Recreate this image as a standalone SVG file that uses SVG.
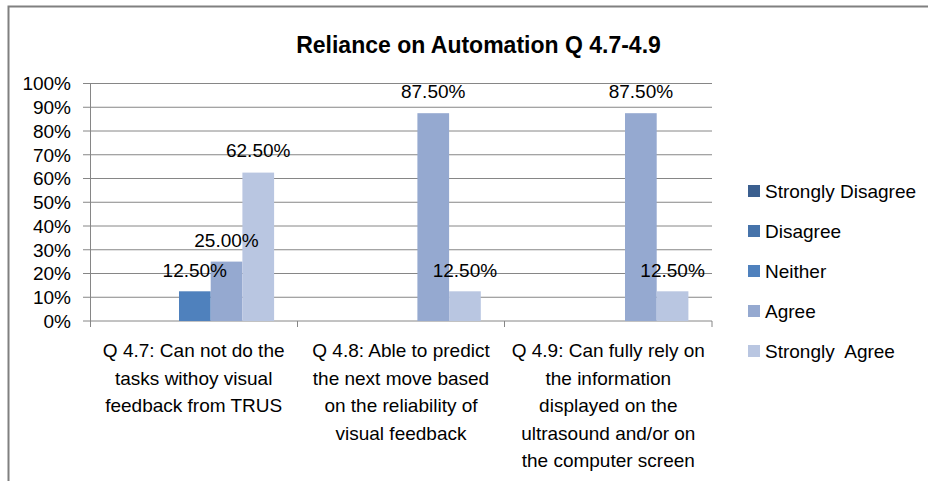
<svg xmlns="http://www.w3.org/2000/svg" width="928" height="481" viewBox="0 0 928 481">
<style>
text{font-family:"Liberation Sans",Arial,sans-serif;font-size:19px;fill:#000}
.title{font-size:23px;font-weight:bold}
.ax{text-anchor:end}
.c{text-anchor:middle}
.grid line{stroke:#868686;stroke-width:1}
.sd{fill:#3B5F8F}.di{fill:#4673AA}.ne{fill:#4F81BD}.ag{fill:#95A9D0}.sa{fill:#B9C6E1}
</style>
<rect width="928" height="481" fill="#fff"/>
<path d="M8.5 481V6.5H928" fill="none" stroke="#808080" stroke-width="2"/>
<text id="title" class="title c" x="478.5" y="52.5">Reliance on Automation Q 4.7-4.9</text>
<g id="axes" class="grid">
<line x1="83" y1="83.5" x2="712" y2="83.5"/>
<line x1="83" y1="107.25" x2="712" y2="107.25"/>
<line x1="83" y1="131" x2="712" y2="131"/>
<line x1="83" y1="154.75" x2="712" y2="154.75"/>
<line x1="83" y1="178.5" x2="712" y2="178.5"/>
<line x1="83" y1="202.25" x2="712" y2="202.25"/>
<line x1="83" y1="226" x2="712" y2="226"/>
<line x1="83" y1="249.75" x2="712" y2="249.75"/>
<line x1="83" y1="273.5" x2="712" y2="273.5"/>
<line x1="83" y1="297.25" x2="712" y2="297.25"/>
<line x1="83" y1="321" x2="712" y2="321"/>
<line x1="90.5" y1="83.5" x2="90.5" y2="327"/>
<line x1="297.5" y1="321" x2="297.5" y2="327"/>
<line x1="504.5" y1="321" x2="504.5" y2="327"/>
<line x1="712" y1="321" x2="712" y2="327"/>
</g>
<g id="yaxis-labels" class="ax">
<text class="ax" x="71" y="90.3">100%</text>
<text class="ax" x="71" y="114">90%</text>
<text class="ax" x="71" y="137.8">80%</text>
<text class="ax" x="71" y="161.5">70%</text>
<text class="ax" x="71" y="185.3">60%</text>
<text class="ax" x="71" y="209">50%</text>
<text class="ax" x="71" y="232.8">40%</text>
<text class="ax" x="71" y="256.5">30%</text>
<text class="ax" x="71" y="280.3">20%</text>
<text class="ax" x="71" y="304">10%</text>
<text class="ax" x="71" y="327.8">0%</text>
</g>
<g id="cat-q47">
<rect class="ne" x="179" y="291.3" width="31.7" height="29.7"/>
<rect class="ag" x="210.7" y="261.6" width="31.7" height="59.4"/>
<rect class="sa" x="242.4" y="172.6" width="31.7" height="148.4"/>
<text class="c" x="194.8" y="276.5">12.50%</text>
<text class="c" x="226.5" y="246.6">25.00%</text>
<text class="c" x="258.2" y="157.3">62.50%</text>
<text class="c" x="193.7" y="357">Q 4.7: Can not do the</text>
<text class="c" x="193.7" y="384.5">tasks withoy visual</text>
<text class="c" x="193.7" y="412">feedback from TRUS</text>
</g>
<g id="cat-q48">
<rect class="ag" x="417.4" y="113.2" width="31.7" height="207.8"/>
<rect class="sa" x="449.1" y="291.3" width="31.7" height="29.7"/>
<text class="c" x="433.2" y="98.3">87.50%</text>
<text class="c" x="464.9" y="276.5">12.50%</text>
<text class="c" x="401" y="357">Q 4.8: Able to predict</text>
<text class="c" x="401" y="384.5">the next move based</text>
<text class="c" x="401" y="412">on the reliability of</text>
<text class="c" x="401" y="439.5">visual feedback</text>
</g>
<g id="cat-q49">
<rect class="ag" x="625" y="113.2" width="31.7" height="207.8"/>
<rect class="sa" x="656.7" y="291.3" width="31.7" height="29.7"/>
<text class="c" x="640.9" y="98.3">87.50%</text>
<text class="c" x="672.6" y="276.5">12.50%</text>
<text class="c" x="608.3" y="357">Q 4.9: Can fully rely on</text>
<text class="c" x="608.3" y="384.5">the information</text>
<text class="c" x="608.3" y="412">displayed on the</text>
<text class="c" x="608.3" y="439.5">ultrasound and/or on</text>
<text class="c" x="608.3" y="467">the computer screen</text>
</g>
<g id="legend">
<rect class="sd" x="748" y="185" width="12" height="12"/>
<text x="765" y="198">Strongly Disagree</text>
<rect class="di" x="748" y="225" width="12" height="12"/>
<text x="765" y="238">Disagree</text>
<rect class="ne" x="748" y="265" width="12" height="12"/>
<text x="765" y="278">Neither</text>
<rect class="ag" x="748" y="305" width="12" height="12"/>
<text x="765" y="318">Agree</text>
<rect class="sa" x="748" y="345" width="12" height="12"/>
<text x="765" y="358" xml:space="preserve">Strongly  Agree</text>
</g>
</svg>
